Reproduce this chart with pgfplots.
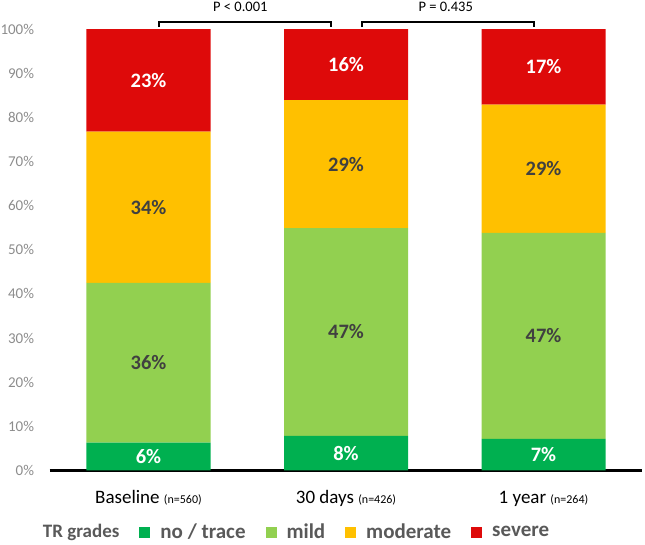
\documentclass[border=0pt]{standalone}
\usepackage{fontspec}
\setmainfont{Carlito}
\usepackage{pgfplots}
\usepackage{pgfplotstable}
\pgfplotsset{compat=1.18}
\definecolor{cNone}{RGB}{0,176,80}
\definecolor{cMild}{RGB}{146,208,80}
\definecolor{cMod}{RGB}{255,192,0}
\definecolor{cSev}{RGB}{222,10,10}
\definecolor{labdark}{RGB}{64,64,64}
\definecolor{tickgrey}{RGB}{140,140,140}
\definecolor{leggrey}{RGB}{89,89,89}

\pgfplotstableread{
x none mild moderate severe
0 6.3 36.2 34.3 23.2
1 7.8 47.1 29.0 16.1
2 7.1 46.7 29.1 17.1
}\datatable

\begin{document}
\begin{tikzpicture}
\path[use as bounding box] (-49.75pt,-73.7pt) rectangle (595.25pt,470.3pt);
\begin{axis}[
  at={(0pt,0pt)}, anchor=south west,
  scale only axis, width=592.5pt, height=441.1pt,
  ybar stacked, bar width=124pt,
  xmin=-0.5, xmax=2.5, ymin=0, ymax=100,
  xtick={0,1,2},
  xticklabels={{Baseline {\fontsize{12}{14}\selectfont(n=560)}},{30 days {\fontsize{12}{14}\selectfont(n=426)}},{1 year {\fontsize{12}{14}\selectfont(n=264)}}},
  xticklabel style={font=\fontsize{19}{22}\selectfont, text=black, anchor=base, yshift=-33pt, inner sep=0pt},
  ytick={0,10,20,30,40,50,60,70,80,90,100},
  yticklabels={0\%,10\%,20\%,30\%,40\%,50\%,60\%,70\%,80\%,90\%,100\%},
  yticklabel style={font=\fontsize{15}{18}\selectfont, text=tickgrey, anchor=east, inner sep=0pt, xshift=-15.5pt},
  axis x line*=bottom, axis y line*=left,
  y axis line style={draw=none},
  x axis line style={line width=2.5pt, black, -},
  major tick length=0pt,
  clip=false,
  legend columns=-1,
  legend image code/.code={\fill[#1] (0pt,-5.5pt) rectangle (11pt,5.5pt);},
  legend style={draw=none, fill=none, inner sep=0pt, outer sep=0pt,
    at={(axis description cs:-0.02827,-0.1399)}, anchor=west,
    font=\fontsize{21}{24}\selectfont\bfseries, text=leggrey,
    nodes={inner sep=0pt},
    /tikz/every odd column/.append style={column sep=10pt},
    /tikz/every even column/.append style={column sep=20pt}},
]
\addlegendimage{empty legend}
\addlegendentry{{\fontsize{19}{22}\selectfont TR grades}\hspace{10pt}}
\addplot[fill=cNone, draw=none] table[x=x,y=none]{\datatable};
\addlegendentry{no / trace}
\addplot[fill=cMild, draw=none] table[x=x,y=mild]{\datatable};
\addlegendentry{mild}
\addplot[fill=cMod, draw=none] table[x=x,y=moderate]{\datatable};
\addlegendentry{moderate}
\addplot[fill=cSev, draw=none] table[x=x,y=severe]{\datatable};
\addlegendentry{severe}
\draw[line width=2.6pt] (axis cs:0.053,100.45) -- (axis cs:0.053,101.64) -- (axis cs:0.924,101.64) -- (axis cs:0.924,100.45);
\draw[line width=2.6pt] (axis cs:1.081,100.45) -- (axis cs:1.081,101.64) -- (axis cs:1.952,101.64) -- (axis cs:1.952,100.45);
\node[font=\fontsize{14.5}{16}\selectfont, anchor=base, inner sep=0pt] at (axis cs:0.465,104.0) {P < 0.001};
\node[font=\fontsize{14.5}{16}\selectfont, anchor=base, inner sep=0pt] at (axis cs:1.505,104.0) {P = 0.435};
\end{axis}
\begin{axis}[
  at={(0pt,0pt)}, anchor=south west,
  scale only axis, width=592.5pt, height=441.1pt,
  xmin=-0.5, xmax=2.5, ymin=0, ymax=100,
  hide axis, clip=false,
]
\addplot[draw=none, mark=none, nodes near coords, point meta=explicit symbolic,
  nodes near coords style={anchor=center, text=white, font=\fontsize{20.5}{24}\selectfont\bfseries}]
  coordinates {(0,3.15)[6\%] (1,3.9)[8\%] (2,3.55)[7\%] (0,88.4)[23\%] (1,91.95)[16\%] (2,91.45)[17\%]};
\addplot[draw=none, mark=none, nodes near coords, point meta=explicit symbolic,
  nodes near coords style={anchor=center, text=labdark, font=\fontsize{20.5}{24}\selectfont\bfseries}]
  coordinates {(0,24.4)[36\%] (1,31.35)[47\%] (2,30.45)[47\%] (0,59.65)[34\%] (1,69.4)[29\%] (2,68.35)[29\%]};
\end{axis}
\end{tikzpicture}
\end{document}
